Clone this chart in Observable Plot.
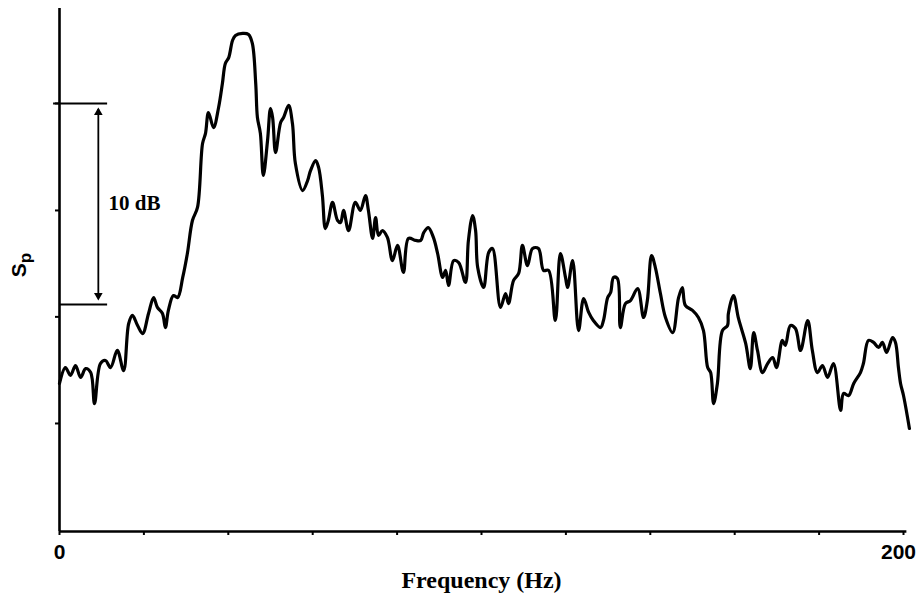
<!DOCTYPE html>
<html>
<head>
<meta charset="utf-8">
<script src="https://cdn.jsdelivr.net/npm/d3@7"></script>
<script src="https://cdn.jsdelivr.net/npm/@observablehq/plot@0.6"></script>
<style>
  html, body { margin: 0; padding: 0; background: #fff; }
  #chart { width: 920px; height: 608px; }
</style>
</head>
<body>
<div id="chart"></div>
<script>
// Frequency (Hz)
const freq = [0,1.4,2.6,3.8,5.0,6.2,7.4,8.3,9.7,10.9,12.1,13.7,15.2,16.4,17.3,18.5,19.7,21.1,22.3,23.2,24.4,25.1,25.8,27.0,28.0,29.2,30.3,31.5,32.7,33.9,34.6,35.3,36.5,37.7,38.6,39.3,40.1,41.0,41.7,43.4,44.8,45.7,46.5,46.9,47.6,48.3,49.3,50.0,50.5,51.2,52.4,53.1,54.3,55.2,55.9,57.6,58.8,59.5,60.7,61.4,62.3,63.0,63.7,64.7,65.9,66.6,67.3,68.5,70.1,71.3,72.5,73.2,74.2,74.9,75.6,76.5,77.7,78.9,80.1,81.5,82.7,84.4,85.6,86.3,87.4,88.6,89.6,90.8,91.5,92.2,93.4,94.6,96.2,96.9,97.9,98.6,99.1,100.5,101.7,102.6,104.5,105.7,106.4,107.6,108.8,109.7,110.9,112.1,113.5,114.7,115.9,117.5,118.7,119.9,120.4,121.6,123.0,124.2,125.4,126.5,128.2,128.9,129.9,130.6,131.3,132.2,132.9,134.1,135.3,137.0,138.4,139.3,140.3,141.2,142.4,143.6,145.3,146.7,147.6,148.3,150.0,151.4,152.6,153.6,154.3,155.0,155.9,157.1,158.3,158.5,159.7,160.9,162.6,163.7,164.5,165.4,166.6,167.8,169.0,169.9,171.3,172.0,173.2,174.4,175.6,177.3,178.4,179.6,180.8,182.0,183.4,185.1,185.8,187.0,188.2,189.8,190.5,191.7,192.9,194.1,195.0,196.0,197.4,198.1,198.8,199.3,200.0,201.0,201.4];
// Sp (dB, relative)
const level = [7.36,8.15,7.76,8.25,7.66,8.10,7.90,6.36,8.35,8.50,8.15,9.00,8.00,10.34,10.74,10.24,9.84,10.84,11.63,11.14,10.84,10.14,10.99,11.73,11.63,12.63,13.82,15.46,16.11,19.29,19.79,20.83,20.08,21.08,22.27,23.27,23.56,24.41,24.66,24.76,24.71,24.26,22.27,20.58,19.79,17.70,19.44,21.03,20.58,18.84,20.33,20.58,21.18,20.28,18.29,16.95,17.45,17.95,18.44,18.10,16.70,15.06,15.46,16.36,15.46,15.36,15.96,14.96,16.36,15.96,16.70,15.96,14.57,15.61,14.72,14.96,14.62,13.47,14.22,12.88,14.57,14.47,14.47,14.86,15.11,14.62,13.82,12.63,12.98,12.23,13.47,13.37,12.38,14.47,15.71,14.96,13.12,12.13,13.87,14.07,11.14,11.83,11.33,12.48,12.83,14.22,13.22,14.07,14.07,12.98,12.98,10.49,13.82,12.63,12.13,13.47,9.99,11.58,10.89,10.49,10.14,10.49,11.63,11.88,12.63,12.58,10.14,11.33,11.48,12.08,10.64,11.48,13.72,13.12,11.83,10.64,9.89,11.63,12.13,11.24,10.99,10.64,9.99,8.15,7.90,6.36,7.36,9.99,10.24,10.84,11.73,10.59,9.35,8.10,9.89,9.00,7.90,8.35,8.65,8.15,9.50,9.25,10.24,10.09,9.00,10.49,9.00,7.90,8.25,7.66,8.35,6.02,6.86,6.76,7.36,7.90,8.35,9.50,9.40,9.15,9.40,8.90,9.64,9.40,8.15,7.36,6.76,5.62,5.12];

const xTicks = [0,20,40,60,80,100,120,140,160,180,200];
const xTickLabels = ["0","","","","","","","","","","200"];
const yTicks = [5.37, 10.67, 15.96, 21.28];

// 10 dB reference bracket
const bracketTop = 21.28;
const bracketBottom = 11.28;
const bracketLabel = "10 dB";

const data = freq.map((f, i) => ({f, v: level[i]}));

const chart = Plot.plot({
  width: 920,
  height: 608,
  marginTop: 8,
  marginBottom: 77,
  marginLeft: 59,
  marginRight: 17,
  x: {domain: [0, 200]},
  y: {domain: [0, 26]},
  style: {background: "#fff", color: "#000"},
  marks: [
    Plot.axisX({ticks: xTicks, tickSize: 4, strokeWidth: 2, tickPadding: 9,
      tickFormat: (d) => xTickLabels[xTicks.indexOf(d)], fontSize: 21, fontWeight: "bold",
      fontFamily: "Liberation Sans", label: null}),
    Plot.axisY({ticks: yTicks, tickSize: 4, strokeWidth: 2, tickFormat: () => "", label: null}),
    Plot.ruleX([0], {y1: 0, y2: 26, strokeWidth: 2.6}),
    Plot.ruleY([0], {x1: 0, x2: 200.8, strokeWidth: 2.6}),
    // bracket
    Plot.ruleY([bracketTop], {x1: -1.4, x2: 11.4, strokeWidth: 2}),
    Plot.ruleY([bracketBottom], {x1: 0, x2: 11.4, strokeWidth: 2}),
    Plot.ruleX([9.2], {y1: bracketBottom + 0.3, y2: bracketTop - 0.3, strokeWidth: 1.8}),
    Plot.dot([{x: 9.2, y: bracketTop - 0.45, r: 0}], {x: "x", y: "y", symbol: "triangle", r: 3.2, fill: "#000", stroke: "none"}),
    Plot.dot([{x: 9.2, y: bracketBottom + 0.45, r: 180}], {x: "x", y: "y", symbol: "triangle", r: 3.2, fill: "#000", stroke: "none", rotate: "r"}),
    Plot.text([bracketLabel], {x: 11.6, y: (bracketTop + bracketBottom) / 2 + 0.05, text: (d) => d,
      textAnchor: "start", fontSize: 21, fontWeight: "bold", fontFamily: "Liberation Serif"}),
    Plot.text(["Frequency (Hz)"], {frameAnchor: "bottom", dy: 56, text: (d) => d,
      fontSize: 24, fontWeight: "bold", fontFamily: "Liberation Serif"}),
    // spectrum
    Plot.line(data, {x: "f", y: "v", stroke: "#000", strokeWidth: 3.2, curve: "catmull-rom",
      strokeLinejoin: "round", strokeLinecap: "round"})
  ]
});

document.getElementById("chart").appendChild(chart);

// nudge the "200" tick label slightly left as in the reference
d3.select(chart).selectAll("text").filter(function () { return this.textContent === "200"; })
  .attr("dx", -5);

// y label S with subscript p
const svg = d3.select(chart);
const t = svg.append("text")
  .attr("transform", "translate(26,265) rotate(-90)")
  .attr("text-anchor", "middle")
  .attr("font-family", "Liberation Sans")
  .attr("font-weight", "bold")
  .attr("font-size", 21)
  .attr("fill", "#000");
t.append("tspan").text("S");
t.append("tspan").attr("font-size", 17).attr("dy", 5).text("p");
</script>
</body>
</html>
